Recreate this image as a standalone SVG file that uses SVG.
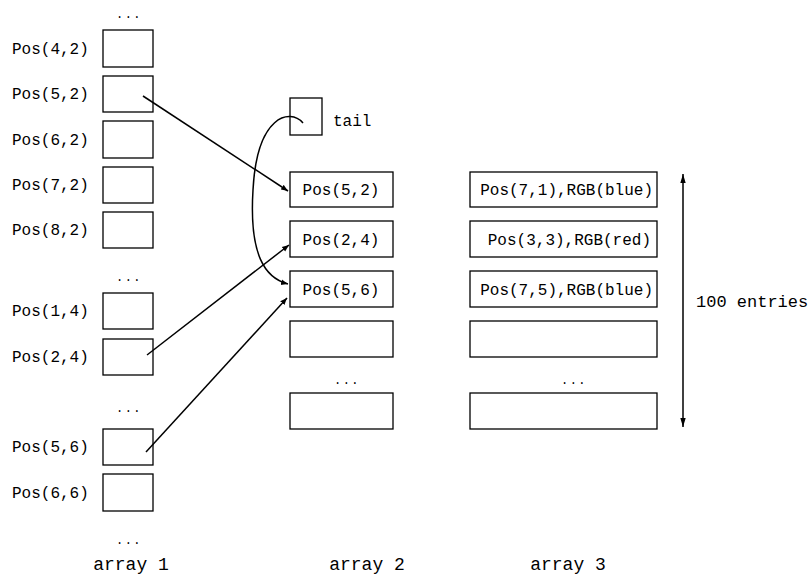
<svg xmlns="http://www.w3.org/2000/svg" width="810" height="579" viewBox="0 0 810 579">
<style>
.b{fill:#fff;stroke:#000;stroke-width:1.3}
.t{font-family:"Liberation Mono","DejaVu Sans Mono",monospace;font-size:16px;fill:#000}
.d{font-family:"Liberation Mono","DejaVu Sans Mono",monospace;font-size:12px;fill:#000;text-anchor:middle;letter-spacing:1.5px}
.c{text-anchor:middle}
.e{text-anchor:end}
.l{font-family:"Liberation Mono","DejaVu Sans Mono",monospace;font-size:18px;fill:#000;text-anchor:middle}
.w{fill:none;stroke:#000;stroke-width:1.5}
</style>
<defs>
<marker id="ah" viewBox="0 0 10 10" refX="10" refY="5" markerWidth="7" markerHeight="7" orient="auto" markerUnits="userSpaceOnUse">
<path d="M0,1 L10,5 L0,9 z" fill="#000"/>
</marker>
<marker id="as" viewBox="0 0 10 10" refX="10" refY="5" markerWidth="9" markerHeight="9" orient="auto-start-reverse" markerUnits="userSpaceOnUse">
<path d="M0,2 L10,5 L0,8 z" fill="#000"/>
</marker>
</defs>
<g id="array1">
<text class="d" x="129" y="18">...</text>
<g id="a1-42"><rect class="b" x="103" y="30" width="50" height="37"/><text class="t" x="12" y="54">Pos(4,2)</text></g>
<g id="a1-52"><rect class="b" x="103" y="76" width="50" height="36"/><text class="t" x="12" y="99">Pos(5,2)</text></g>
<g id="a1-62"><rect class="b" x="103" y="121" width="50" height="37"/><text class="t" x="12" y="145">Pos(6,2)</text></g>
<g id="a1-72"><rect class="b" x="103" y="167" width="50" height="36"/><text class="t" x="12" y="190">Pos(7,2)</text></g>
<g id="a1-82"><rect class="b" x="103" y="212" width="50" height="36"/><text class="t" x="12" y="235">Pos(8,2)</text></g>
<text class="d" x="129" y="281">...</text>
<g id="a1-14"><rect class="b" x="103" y="293" width="50" height="36"/><text class="t" x="12" y="316">Pos(1,4)</text></g>
<g id="a1-24"><rect class="b" x="103" y="339" width="50" height="36"/><text class="t" x="12" y="362">Pos(2,4)</text></g>
<text class="d" x="129" y="412">...</text>
<g id="a1-56"><rect class="b" x="103" y="429" width="50" height="36"/><text class="t" x="12" y="452">Pos(5,6)</text></g>
<g id="a1-66"><rect class="b" x="103" y="474" width="50" height="37"/><text class="t" x="12" y="498">Pos(6,6)</text></g>
<text class="d" x="129" y="544">...</text>
<text class="l" x="131" y="570">array 1</text>
</g>
<g id="array2">
<g id="tail"><rect class="b" x="290" y="98" width="32" height="37"/><text class="t" x="333" y="126">tail</text></g>
<g id="a2-1"><rect class="b" x="290" y="172" width="103" height="35"/><text class="t c" x="341" y="195">Pos(5,2)</text></g>
<g id="a2-2"><rect class="b" x="290" y="221" width="103" height="36"/><text class="t c" x="341" y="245">Pos(2,4)</text></g>
<g id="a2-3"><rect class="b" x="290" y="271" width="103" height="36"/><text class="t c" x="341" y="295">Pos(5,6)</text></g>
<g id="a2-4"><rect class="b" x="290" y="321" width="103" height="36"/></g>
<text class="d" x="347" y="384">...</text>
<g id="a2-5"><rect class="b" x="290" y="393" width="103" height="36"/></g>
<text class="l" x="367" y="570">array 2</text>
</g>
<g id="array3">
<g id="a3-1"><rect class="b" x="470" y="172" width="187" height="35"/><text class="t e" x="653" y="195">Pos(7,1),RGB(blue)</text></g>
<g id="a3-2"><rect class="b" x="470" y="221" width="187" height="36"/><text class="t e" x="651" y="245">Pos(3,3),RGB(red)</text></g>
<g id="a3-3"><rect class="b" x="470" y="271" width="187" height="36"/><text class="t e" x="653" y="295">Pos(7,5),RGB(blue)</text></g>
<g id="a3-4"><rect class="b" x="470" y="321" width="187" height="36"/></g>
<text class="d" x="574" y="384">...</text>
<g id="a3-5"><rect class="b" x="470" y="393" width="187" height="36"/></g>
<text class="l" x="568" y="570">array 3</text>
<text class="t" x="696" y="307" style="font-size:17px">100 entries</text>
</g>
<g id="connectors">
<line class="w" x1="143" y1="96" x2="288" y2="191" marker-end="url(#ah)"/>
<line class="w" x1="147" y1="355" x2="289" y2="245" marker-end="url(#ah)"/>
<line class="w" x1="146" y1="452" x2="287" y2="298" marker-end="url(#ah)"/>
<path class="w" d="M303,123 C290,108 257,115 253,190 C249,255 265,278 288,284" marker-end="url(#ah)"/>
<line class="w" x1="683" y1="174" x2="683" y2="427" marker-start="url(#as)" marker-end="url(#as)"/>
</g>
</svg>
